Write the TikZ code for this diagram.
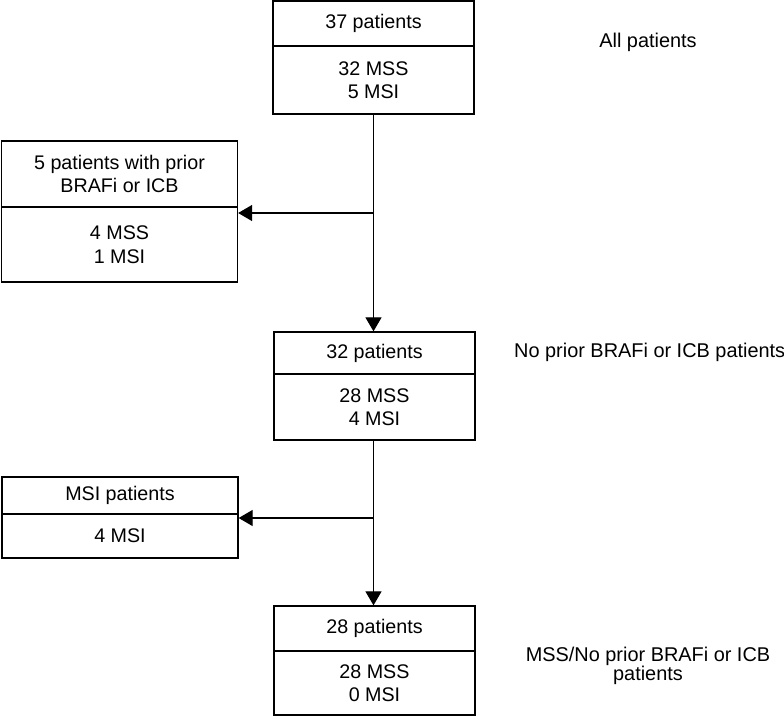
\documentclass[tikz,border=0pt]{standalone}
\usepackage{fontspec}
\setmainfont{Liberation Sans}
\usetikzlibrary{arrows.meta}

\begin{document}
\begin{tikzpicture}[x=1pt,y=-1pt,
	part/.style={draw,line width=1.3pt,inner sep=0pt,align=center,font=\fontsize{19.7}{23.5}\selectfont},
	mid_part/.style={part,minimum width=201pt},
	side_part/.style={part,minimum width=236pt},
	flow/.style={line width=1.2pt,-{Triangle[length=14pt,width=16pt]}},
	note/.style={align=center,inner sep=0pt,font=\fontsize{19.9}{19}\selectfont}]
	\useasboundingbox (0,0) rectangle (784,716);
	\node[mid_part,minimum height=45pt] (t1) at (373.5,23.5) {37 patients};
	\node[mid_part,minimum height=68pt] (b1) at (373.5,80) {32 MSS\\5 MSI};
	\node[side_part,minimum height=66pt] (t2) at (119.5,174) {5 patients with prior\\BRAFi or ICB};
	\node[side_part,minimum height=75pt] (b2) at (119.5,244.5) {4 MSS\\1 MSI};
	\node[mid_part,minimum height=42pt] (t3) at (374.5,353) {32 patients};
	\node[mid_part,minimum height=66pt] (b3) at (374.5,407) {28 MSS\\4 MSI};
	\node[side_part,minimum height=37pt] (t4) at (120,495.5) {MSI patients};
	\node[side_part,minimum height=44pt] (b4) at (120,536) {4 MSI};
	\node[mid_part,minimum height=45pt] (t5) at (374.5,628.5) {28 patients};
	\node[mid_part,minimum height=64pt] (b5) at (374.5,683) {28 MSS\\0 MSI};
	\node[note] (n1) at (648,42) {All patients};
	\node[note,anchor=west] (n3) at (514,352) {No prior BRAFi or ICB patients};
	\node[note] (n5) at (648,666) {MSS/No prior BRAFi or ICB\\patients};
	\coordinate (j1) at (373.5,213);
	\coordinate (j2) at (373.5,518);
	\draw[flow] (b1) -- (b1 |- t3.north);
	\draw[flow] (j1) -- (b2.east |- j1);
	\draw[flow] (b1 |- b3.south) -- (b1 |- t5.north);
	\draw[flow] (j2) -- (b4.east |- j2);
\end{tikzpicture}
\end{document}
